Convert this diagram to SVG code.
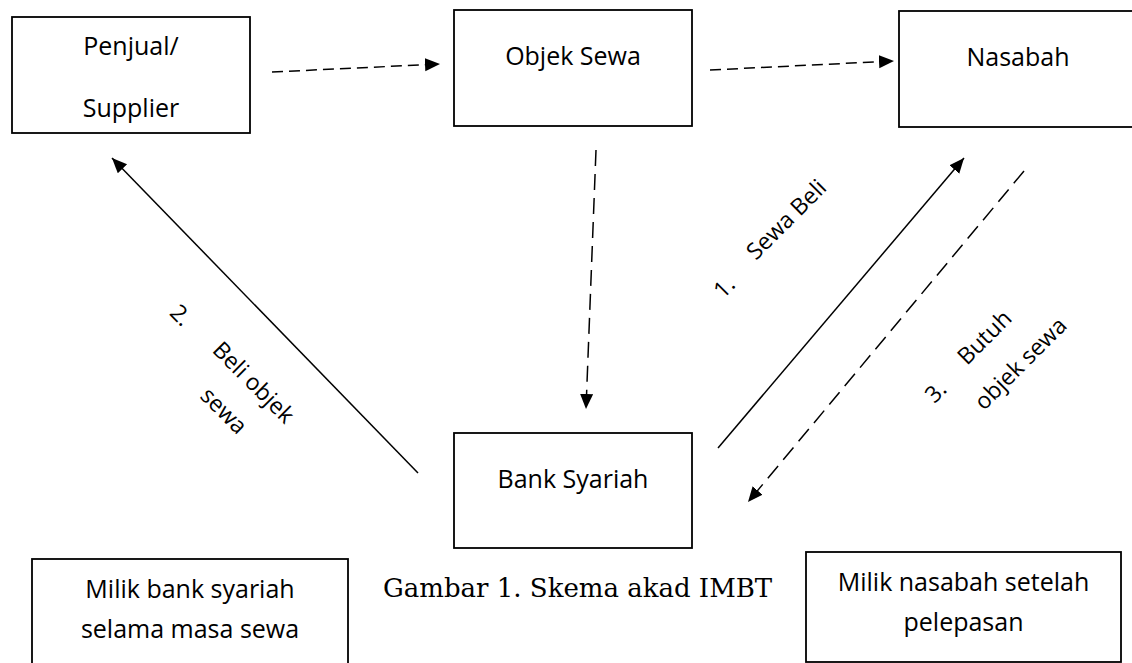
<svg xmlns="http://www.w3.org/2000/svg" width="1132" height="663" viewBox="0 0 1132 663">
<style>
.box{fill:#fff;stroke:#000;stroke-width:1.8}
.t{font-family:"Open Sans","Liberation Sans",sans-serif;font-size:25px;fill:#000;text-anchor:middle}
.r{font-family:"Open Sans","Liberation Sans",sans-serif;font-size:23px;fill:#000;text-anchor:middle}
.cap{font-family:"DejaVu Serif","Liberation Serif",serif;font-size:26px;fill:#000}
.ln{fill:none;stroke:#000;stroke-width:1.5}
.dh{stroke-dasharray:11 6}
.dv{stroke-dasharray:16 8}
</style>
<defs>
<marker id="ah" markerUnits="userSpaceOnUse" markerWidth="16" markerHeight="14" refX="15" refY="6.5" orient="auto">
<path d="M0,0 L15,6.5 L0,13 z" fill="#000"/>
</marker>
</defs>
<g id="connectors">
<line class="ln dh" x1="272" y1="72" x2="440" y2="64" marker-end="url(#ah)"/>
<line class="ln dh" x1="710" y1="70" x2="894" y2="61" marker-end="url(#ah)"/>
<line class="ln dv" x1="596" y1="150" x2="586" y2="409" marker-end="url(#ah)"/>
<line class="ln" x1="418" y1="473" x2="112" y2="158" marker-end="url(#ah)"/>
<line class="ln" x1="718" y1="448" x2="964" y2="158" marker-end="url(#ah)"/>
<line class="ln dv" x1="1024" y1="171" x2="748" y2="502" marker-end="url(#ah)"/>
</g>
<g id="label-1" transform="translate(792,225) rotate(-45)">
<text class="r" x="-92" y="4">1.</text>
<text class="r" x="0" y="0">Sewa Beli</text>
</g>
<g id="label-2" transform="translate(248,388) rotate(45)">
<text class="r" x="-99" y="4">2.</text>
<text class="r" x="0" y="0">Beli objek</text>
<text class="r" x="-1" y="41">sewa</text>
</g>
<g id="label-3" transform="translate(990,343) rotate(-45)">
<text class="r" x="-73" y="4">3.</text>
<text class="r" x="0" y="0">Butuh</text>
<text class="r" x="7" y="44">objek sewa</text>
</g>
<g id="penjual">
<rect class="box" x="12" y="17" width="238" height="116"/>
<text class="t" x="131" y="55">Penjual/</text>
<text class="t" x="131" y="117">Supplier</text>
</g>
<g id="objek-sewa">
<rect class="box" x="454" y="10" width="238" height="116"/>
<text class="t" x="573" y="65">Objek Sewa</text>
</g>
<g id="nasabah">
<rect class="box" x="899" y="11" width="240" height="116"/>
<text class="t" x="1018" y="66">Nasabah</text>
</g>
<g id="bank-syariah">
<rect class="box" x="454" y="433" width="238" height="115"/>
<text class="t" x="573" y="488">Bank Syariah</text>
</g>
<g id="milik-bank">
<rect class="box" x="32" y="559" width="316" height="112"/>
<text class="t" x="190" y="598">Milik bank syariah</text>
<text class="t" x="190" y="638">selama masa sewa</text>
</g>
<g id="milik-nasabah">
<rect class="box" x="806" y="552" width="315" height="110"/>
<text class="t" x="963.5" y="591">Milik nasabah setelah</text>
<text class="t" x="963.5" y="631">pelepasan</text>
</g>
<g id="caption">
<text class="cap" x="383" y="597">Gambar 1. Skema akad IMBT</text>
</g>
</svg>
